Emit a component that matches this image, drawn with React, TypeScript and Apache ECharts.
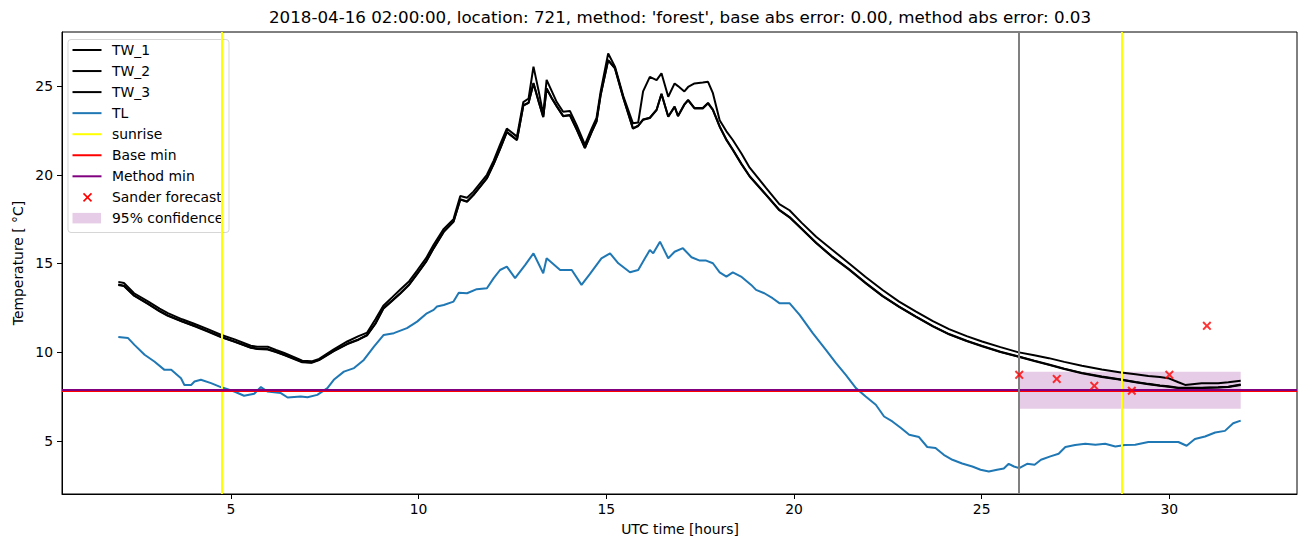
import React, { useEffect, useRef } from "react";
import * as echarts from "echarts";

// ---------- data ----------
const twHours = [
  2.0, 2.15, 2.42, 2.8, 3.1, 3.32, 3.7, 4.02, 4.4, 4.73, 5.1, 5.53, 5.7, 5.98, 6.2, 6.42, 6.7, 6.9, 7.15, 7.35,
  7.74, 8.1, 8.4, 8.63, 8.85, 9.06, 9.3, 9.52, 9.75, 9.96, 10.2, 10.4, 10.67, 10.93, 11.11, 11.29, 11.46, 11.82, 12.0, 12.17,
  12.35, 12.62, 12.79, 12.93, 13.06, 13.2, 13.32, 13.41, 13.55, 13.68, 13.85, 14.03, 14.21, 14.43, 14.61, 14.74, 14.85, 15.05, 15.23, 15.45,
  15.71, 15.85, 15.98, 16.16, 16.34, 16.47, 16.65, 16.82, 16.91, 17.08, 17.18, 17.35, 17.57, 17.71, 17.84, 18.02, 18.2, 18.37, 18.6, 18.82,
  19.26, 19.61, 19.88, 20.2, 20.59, 21.0, 21.47, 21.9, 22.36, 22.8, 23.24, 23.7, 24.13, 24.6, 25.01, 25.5, 25.96, 26.4, 26.79, 27.2,
  27.67, 28.2, 28.71, 29.1, 29.44, 29.75, 29.97, 30.24, 30.42, 30.86, 31.3, 31.57, 31.9,
];
const tw1 = [
  13.96, 13.9, 13.32, 12.85, 12.45, 12.2, 11.85, 11.6, 11.28, 10.98, 10.72, 10.36, 10.3, 10.3, 10.12, 9.95, 9.7, 9.52, 9.48, 9.62,
  10.15, 10.6, 10.9, 11.1, 11.85, 12.62, 13.1, 13.55, 14.0, 14.6, 15.3, 16.05, 16.95, 17.5, 18.8, 18.7, 19.05, 20.0, 20.8, 21.7,
  22.6, 22.15, 24.1, 24.3, 26.1, 24.7, 23.4, 25.35, 24.7, 24.1, 23.55, 23.6, 22.8, 21.7, 22.6, 23.2, 24.7, 26.84, 26.1, 24.45,
  22.9, 22.95, 24.7, 25.52, 25.34, 25.72, 24.4, 25.15, 25.0, 24.7, 24.95, 25.15, 25.2, 25.24, 24.6, 23.08, 22.45, 21.96, 21.2, 20.4,
  19.25, 18.35, 18.0, 17.3, 16.5, 15.8, 15.0, 14.25, 13.5, 12.85, 12.3, 11.75, 11.3, 10.9, 10.6, 10.28, 10.0, 9.82, 9.66, 9.45,
  9.23, 9.02, 8.85, 8.75, 8.66, 8.6, 8.53, 8.3, 8.15, 8.25, 8.25, 8.3, 8.38,
];
const tw2 = [
  13.79, 13.72, 13.18, 12.7, 12.3, 12.05, 11.72, 11.47, 11.15, 10.85, 10.58, 10.24, 10.18, 10.15, 10.0, 9.83, 9.6, 9.43, 9.4, 9.55,
  10.05, 10.45, 10.7, 10.95, 11.6, 12.45, 12.9, 13.32, 13.8, 14.4, 15.1, 15.85, 16.78, 17.35, 18.6, 18.48, 18.85, 19.8, 20.6, 21.45,
  22.4, 21.95, 23.9, 24.05, 25.15, 24.1, 23.25, 24.85, 24.3, 23.85, 23.3, 23.35, 22.55, 21.5, 22.4, 23.0, 24.5, 26.45, 26.0, 24.35,
  22.6, 22.75, 23.1, 23.2, 23.65, 24.55, 23.27, 23.83, 23.3, 23.95, 24.2, 23.74, 23.74, 24.03, 23.65, 22.71, 21.96, 21.4, 20.6, 19.9,
  18.85, 18.0, 17.6, 16.95, 16.15, 15.4, 14.65, 13.9, 13.15, 12.55, 12.0, 11.45, 11.0, 10.62, 10.33, 10.0, 9.75, 9.5, 9.28, 9.05,
  8.81, 8.6, 8.44, 8.3, 8.19, 8.1, 8.05, 7.97, 7.97, 7.97, 8.0, 8.03, 8.15,
];
const tw3 = [
  13.82, 13.74, 13.2, 12.72, 12.32, 12.07, 11.74, 11.49, 11.17, 10.87, 10.6, 10.26, 10.2, 10.17, 10.02, 9.85, 9.62, 9.45, 9.42, 9.57,
  10.07, 10.47, 10.72, 10.97, 11.62, 12.47, 12.92, 13.34, 13.82, 14.42, 15.12, 15.87, 16.8, 17.37, 18.62, 18.5, 18.87, 19.82, 20.62, 21.47,
  22.42, 21.97, 23.92, 24.07, 25.17, 24.12, 23.27, 24.87, 24.32, 23.87, 23.32, 23.37, 22.57, 21.52, 22.42, 23.02, 24.52, 26.47, 26.02, 24.37,
  22.62, 22.77, 23.12, 23.22, 23.67, 24.57, 23.29, 23.85, 23.32, 23.97, 24.22, 23.76, 23.76, 24.05, 23.67, 22.73, 21.98, 21.42, 20.62, 19.92,
  18.87, 18.02, 17.62, 16.97, 16.17, 15.42, 14.67, 13.92, 13.17, 12.57, 12.02, 11.47, 11.02, 10.64, 10.35, 10.02, 9.77, 9.52, 9.3, 9.07,
  8.83, 8.62, 8.46, 8.32, 8.21, 8.12, 8.07, 7.99, 7.99, 7.99, 8.02, 8.05, 8.17,
];

const tlHours = [
  2.0, 2.26, 2.43, 2.7, 2.96, 3.23, 3.41, 3.67, 3.76, 3.94, 4.03, 4.2, 4.47, 4.73, 5.09, 5.35, 5.62, 5.8, 5.97, 6.33,
  6.51, 6.86, 7.04, 7.3, 7.57, 7.74, 8.01, 8.28, 8.54, 8.81, 9.07, 9.34, 9.69, 9.96, 10.22, 10.4, 10.49, 10.67, 10.93, 11.07,
  11.29, 11.55, 11.82, 12.0, 12.17, 12.35, 12.57, 12.84, 13.06, 13.32, 13.41, 13.77, 14.08, 14.34, 14.56, 14.87, 15.1, 15.32, 15.63, 15.85,
  16.03, 16.16, 16.25, 16.43, 16.65, 16.82, 17.04, 17.27, 17.49, 17.66, 17.84, 18.02, 18.2, 18.37, 18.59, 18.86, 18.99, 19.21, 19.43, 19.61,
  19.88, 20.15, 20.5, 20.85, 21.12, 21.38, 21.65, 21.91, 22.18, 22.4, 22.62, 22.85, 23.07, 23.33, 23.55, 23.77, 23.99, 24.22, 24.48, 24.75,
  24.97, 25.19, 25.41, 25.59, 25.72, 25.86, 26.0, 26.21, 26.41, 26.58, 26.83, 27.05, 27.23, 27.49, 27.76, 28.03, 28.29, 28.56, 28.82, 29.09,
  29.44, 29.89, 30.24, 30.46, 30.68, 30.95, 31.22, 31.48, 31.7, 31.9,
];
const tl = [
  10.85, 10.79, 10.41, 9.85, 9.47, 9.0, 9.0, 8.53, 8.15, 8.15, 8.34, 8.44, 8.25, 8.03, 7.78, 7.54, 7.65, 8.03, 7.78, 7.69,
  7.44, 7.5, 7.46, 7.59, 7.97, 8.44, 8.9, 9.1, 9.56, 10.31, 10.97, 11.07, 11.35, 11.72, 12.19, 12.38, 12.57, 12.66, 12.85, 13.35,
  13.32, 13.55, 13.6, 14.17, 14.63, 14.82, 14.17, 14.92, 15.57, 14.45, 15.29, 14.63, 14.63, 13.79, 14.4, 15.29, 15.57, 15.01, 14.5, 14.63,
  15.29, 15.76, 15.57, 16.23, 15.29, 15.66, 15.86, 15.35, 15.16, 15.16, 15.01, 14.5, 14.26, 14.5, 14.26, 13.79, 13.51, 13.32, 13.04, 12.76,
  12.76, 12.1, 11.07, 10.13, 9.38, 8.72, 7.97, 7.5, 7.03, 6.37, 6.09, 5.72, 5.34, 5.21, 4.65, 4.59, 4.21, 3.93, 3.72, 3.55,
  3.37, 3.27, 3.37, 3.44, 3.7, 3.55, 3.46, 3.7, 3.65, 3.93, 4.12, 4.27, 4.65, 4.76, 4.83, 4.78, 4.83, 4.68, 4.76, 4.78,
  4.93, 4.93, 4.93, 4.72, 5.1, 5.24, 5.47, 5.56, 5.99, 6.14,
];

const sunriseHours = [4.76, 28.72];
const forecastStartHour = 26.0;
const baseMin = 7.84;
const methodMin = 7.87;
const forecastHours = [26, 27, 28, 29, 30, 31];
const forecastValues = [8.72, 8.49, 8.1, 7.82, 8.72, 11.48];
const confidenceHours = [26.0, 31.9];
const confidenceBounds = [6.8, 8.9];

const xTicks = [5, 10, 15, 20, 25, 30];
const yTicks = [5, 10, 15, 20, 25];
const xRange = [0.5, 33.4];
const yRange = [2.0, 28.05];

const legendLabels = ["TW_1", "TW_2", "TW_3", "TL", "sunrise", "Base min", "Method min", "Sander forecast", "95% confidence"];
const titleText = "2018-04-16 02:00:00, location: 721, method: 'forest', base abs error: 0.00, method abs error: 0.03";

// ---------- styles ----------
const FONT = "DejaVu Sans";
const BLUE = "#1f77b4";
const PURPLE = "#800080";
const BAND = "rgba(128,0,128,0.2)";
const CROSS = "path://M1.6,0L5,3.4L8.4,0L10,1.6L6.6,5L10,8.4L8.4,10L5,6.6L1.6,10L0,8.4L3.4,5L0,1.6Z";

const zip = (xs: number[], ys: number[]) => xs.map((x, i) => [x, ys[i]]);

function lineSeries(name: string, xs: number[], ys: number[], color: string, z: number) {
  return {
    name,
    type: "line",
    data: zip(xs, ys),
    showSymbol: false,
    symbol: "none",
    lineStyle: { color, width: 2 },
    itemStyle: { color },
    z,
    silent: true,
  };
}

function markLineSeries(name: string, items: any[], color: string, z: number) {
  return {
    name,
    type: "line",
    data: [],
    z,
    silent: true,
    markLine: {
      silent: true,
      symbol: "none",
      label: { show: false },
      lineStyle: { color, width: 2, type: "solid" },
      emphasis: { disabled: true },
      data: items,
    },
  };
}

function buildLegend() {
  const x0 = 68;
  const y0 = 39.5;
  const rowH = 21.05;
  const firstY = 50;
  const colors = ["#000", "#000", "#000", BLUE, "#ffff00", "#ff0000", PURPLE];
  const children: any[] = [
    {
      type: "rect",
      shape: { x: x0, y: y0, width: 161, height: 193, r: 3 },
      style: { fill: "rgba(255,255,255,0.8)", stroke: "rgba(204,204,204,0.8)", lineWidth: 1 },
    },
  ];
  legendLabels.forEach((label, i) => {
    const y = firstY + rowH * i;
    if (i < colors.length) {
      children.push({
        type: "line",
        shape: { x1: 72.5, y1: y, x2: 101.5, y2: y },
        style: { stroke: colors[i], lineWidth: 2 },
      });
    } else if (i === 7) {
      children.push({
        type: "line",
        shape: { x1: 83.5, y1: y - 4, x2: 91.5, y2: y + 4 },
        style: { stroke: "#ff0000", lineWidth: 1.6 },
      });
      children.push({
        type: "line",
        shape: { x1: 91.5, y1: y - 4, x2: 83.5, y2: y + 4 },
        style: { stroke: "#ff0000", lineWidth: 1.6 },
      });
    } else {
      children.push({
        type: "rect",
        shape: { x: 72.5, y: y - 5.5, width: 28.5, height: 10.5 },
        style: { fill: BAND },
      });
    }
    children.push({
      type: "text",
      x: 112,
      y,
      style: { text: label, fill: "#000", font: `13.9px '${FONT}'`, textVerticalAlign: "middle", textAlign: "left" },
    });
  });
  return { type: "group", z: 100, children };
}

export default function App() {
  const ref = useRef<HTMLDivElement>(null);
  useEffect(() => {
    if (!ref.current) return;
    const chart = echarts.init(ref.current, undefined, { renderer: "svg" });
    const axisText = { color: "#000", fontSize: 13.9, fontFamily: FONT };
    chart.setOption({
      animation: false,
      backgroundColor: "#fff",
      grid: { left: 62, right: 13, top: 32, bottom: 53, show: true, borderColor: "#000", borderWidth: 1, backgroundColor: "transparent" },
      xAxis: {
        type: "value",
        min: xRange[0],
        max: xRange[1],
        splitLine: { show: false },
        axisLine: { show: true, onZero: false, lineStyle: { color: "#000", width: 1 } },
        axisTick: { show: true, length: 5, customValues: xTicks, lineStyle: { color: "#000", width: 1 } },
        axisLabel: { ...axisText, margin: 8, customValues: xTicks },
      },
      yAxis: {
        type: "value",
        min: yRange[0],
        max: yRange[1],
        splitLine: { show: false },
        axisLine: { show: true, onZero: false, lineStyle: { color: "#000", width: 1 } },
        axisTick: { show: true, length: 5, customValues: yTicks, lineStyle: { color: "#000", width: 1 } },
        axisLabel: { ...axisText, margin: 9, customValues: yTicks },
      },
      graphic: [
        {
          type: "text",
          x: 680,
          y: 17,
          style: { text: titleText, fill: "#000", font: `16.7px '${FONT}'`, textAlign: "center", textVerticalAlign: "middle" },
        },
        {
          type: "text",
          x: 680,
          y: 529,
          style: { text: "UTC time [hours]", fill: "#000", font: `13.9px '${FONT}'`, textAlign: "center", textVerticalAlign: "middle" },
        },
        {
          type: "text",
          x: 18,
          y: 263,
          rotation: Math.PI / 2,
          style: { text: "Temperature [ °C]", fill: "#000", font: `13.9px '${FONT}'`, textAlign: "center", textVerticalAlign: "middle" },
        },
        buildLegend(),
      ],
      series: [
        {
          name: "95% confidence",
          type: "line",
          data: [],
          z: 1,
          silent: true,
          markArea: {
            silent: true,
            itemStyle: { color: BAND },
            label: { show: false },
            data: [[{ xAxis: confidenceHours[0], yAxis: confidenceBounds[0] }, { xAxis: confidenceHours[1], yAxis: confidenceBounds[1] }]],
          },
        },
        lineSeries("TW_1", twHours, tw1, "#000", 2),
        lineSeries("TW_2", twHours, tw2, "#000", 2),
        lineSeries("TW_3", twHours, tw3, "#000", 2),
        lineSeries("TL", tlHours, tl, BLUE, 3),
        markLineSeries("sunrise", sunriseHours.map((h) => ({ xAxis: h })), "#ffff00", 4),
        markLineSeries("Base min", [{ yAxis: baseMin }], "#ff0000", 5),
        markLineSeries("Method min", [{ yAxis: methodMin }], PURPLE, 6),
        {
          name: "Sander forecast",
          type: "scatter",
          data: zip(forecastHours, forecastValues),
          symbol: CROSS,
          symbolSize: 9,
          itemStyle: { color: "#ff0000" },
          z: 7,
          silent: true,
        },
        markLineSeries("forecast start", [{ xAxis: forecastStartHour }], "#808080", 8),
      ],
    });
    return () => chart.dispose();
  }, []);
  return <div ref={ref} style={{ position: "fixed", left: 0, top: 0, width: 1310, height: 547 }} />;
}
